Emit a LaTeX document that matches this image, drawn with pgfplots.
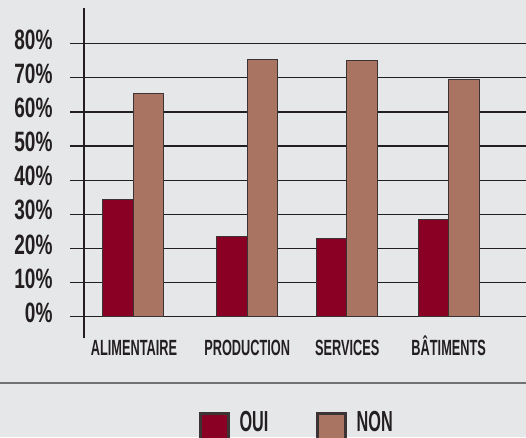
\documentclass[border=0pt]{standalone}
\usepackage{fontspec}
\usepackage{pgfplots}
\pgfplotsset{compat=1.18}
\newfontfamily\tickfont{Liberation Sans}[FakeStretch=0.68]
\newfontfamily\catfont{Liberation Sans}[FakeStretch=0.58]
\newfontfamily\legfont{Liberation Sans}[FakeStretch=0.56]
\definecolor{bg}{HTML}{E6E7E9}
\definecolor{ink}{HTML}{231F20}
\definecolor{oui}{HTML}{8A0024}
\definecolor{non}{HTML}{A97462}
\definecolor{edge}{HTML}{3B3334}
\definecolor{sep}{HTML}{707173}
\begin{document}
\begin{tikzpicture}
\begin{scope}
\clip (-70pt,-99pt) rectangle (456pt,338pt);
\fill[bg] (-70pt,-99pt) rectangle (456pt,338pt);
\begin{axis}[
  scale only axis, width=456pt, height=330pt,
  xmin=70, xmax=526, ymin=-6.24, ymax=90.46,
  ybar, bar width=30.5pt, bar shift=0pt,
  axis line style={draw=none},
  ytick={0,10,...,80},
  yticklabels={0\%,10\%,20\%,30\%,40\%,50\%,60\%,70\%,80\%},
  ymajorgrids, grid style={ink, line width=1.3pt},
  major tick length=0pt,
  xtick={134,247.2,347.2,448.7},
  xticklabels={ALIMENTAIRE,PRODUCTION,SERVICES,BÂTIMENTS},
  yticklabel style={font=\tickfont\bfseries\fontsize{28}{30}\selectfont, text=ink, xshift=-14pt, yshift=4pt},
  xticklabel style={font=\catfont\bfseries\fontsize{22}{24}\selectfont, text=ink, text height=16pt, yshift=2pt},
  legend columns=2,
  legend style={draw=none, fill=none, inner sep=0pt,
    at={(axis description cs:0.2829,-0.3161)}, anchor=south west,
    font=\legfont\bfseries\fontsize{29}{31}\selectfont, text=ink,
    nodes={inner sep=0pt},
    /tikz/every odd column/.append style={column sep=10pt},
    /tikz/every even column/.append style={column sep=48pt}},
]
\addplot[fill=oui, draw=edge, line width=1pt,
  legend image code/.code={\draw[fill=oui, draw=edge, line width=2.5pt] (0pt,-18.75pt) rectangle (27.8pt,8.75pt);}]
  coordinates {(118,34.4) (231.9,23.6) (331.4,23.0) (433.7,28.6)};
\addplot[fill=non, draw=edge, line width=1pt,
  legend image code/.code={\draw[fill=non, draw=edge, line width=2.5pt] (0pt,-18.75pt) rectangle (27.8pt,8.75pt);}]
  coordinates {(148.5,65.5) (262.5,75.3) (361.9,75.0) (463.9,69.6)};
\legend{OUI,NON}
\draw[ink, line width=1.5pt] (axis cs:84,-6.24) -- (axis cs:84,90.46);
\end{axis}
\draw[sep, line width=2pt] (-70pt,-44.7pt) -- (456pt,-44.7pt);
\end{scope}
\pgfresetboundingbox
\useasboundingbox (-70pt,-99pt) rectangle (456pt,338pt);
\end{tikzpicture}
\end{document}
